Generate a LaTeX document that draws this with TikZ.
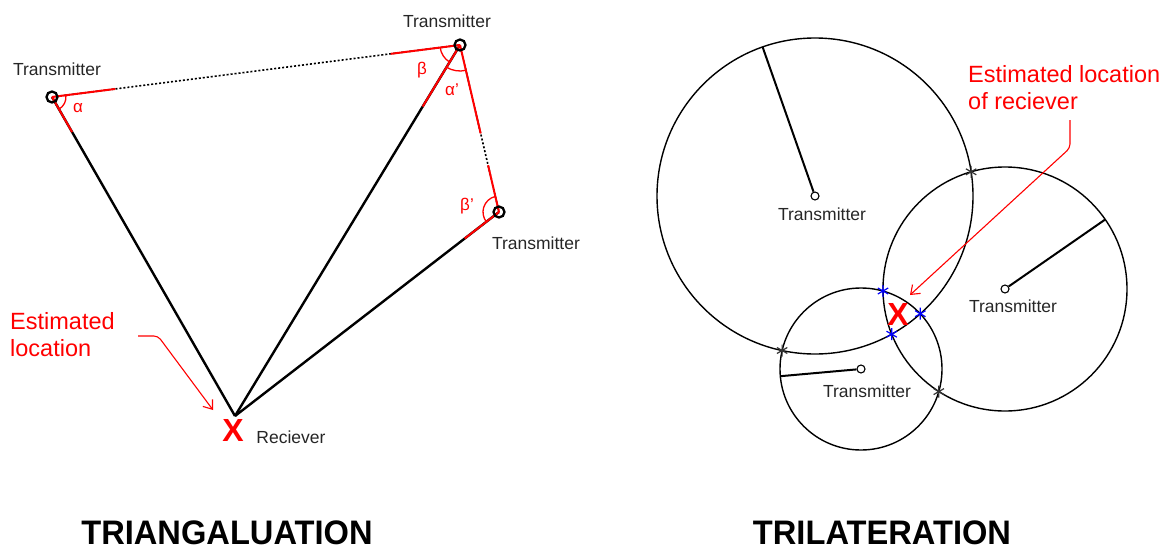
\documentclass[tikz,border=0pt]{standalone}
\usepackage{fontspec}
\setmainfont{Liberation Sans}
\usetikzlibrary{arrows.meta,angles,calc}
\definecolor{myred}{RGB}{255,0,0}
\definecolor{myblue}{RGB}{0,0,255}
\begin{document}
\begin{tikzpicture}[x=1pt,y=-1pt,
  lbl/.style={font=\fontsize{17.5}{20}\selectfont, anchor=base, inner sep=0pt, text=black!85},
  greek/.style={font=\fontsize{17}{20}\selectfont, text=myred, inner sep=0pt},
  redlbl/.style={font=\fontsize{23.5}{27}\selectfont, text=myred, align=left, anchor=north west, inner sep=0pt},
  title/.style={font=\fontsize{34}{38}\selectfont\bfseries, anchor=base, inner sep=0pt},
  bigx/.style={font=\fontsize{32}{36}\selectfont\bfseries, text=myred, inner sep=0pt},
  ring/.style={circle, draw, line width=2.3pt, minimum size=11pt, inner sep=0pt},
  smallring/.style={circle, draw, line width=1.1pt, minimum size=8pt, inner sep=0pt},
  thickblk/.style={line width=2.4pt},
  redseg/.style={myred, line width=2pt},
  dotblk/.style={line width=1.6pt, dash pattern=on 2pt off 2pt},
  anglearc/.style={draw=myred, line width=1.3pt},
  redarrow/.style={myred, line width=1.1pt, -{Straight Barb[length=8pt,width=12pt]}},
  circ/.style={line width=1.4pt},
  radline/.style={line width=2pt},
  astmark/.pic={\draw[line width=1.2pt] (0,-6)--(0,6) (-5.2,-3)--(5.2,3) (-5.2,3)--(5.2,-3);}
]
\useasboundingbox (0,0) rectangle (1176,549);

% ---------------- Triangulation ----------------
\coordinate (a) at (52,97);
\coordinate (b) at (460,45);
\coordinate (c) at (499,212);
\coordinate (r) at (235,416);

\draw[thickblk] (a) -- (r);
\draw[thickblk] (b) -- (r);
\draw[thickblk] (c) -- (r);
\draw[dotblk] (a) -- (b);
\draw[dotblk] (b) -- (c);

\draw[redseg] (a) -- ($(a)!0.11!(r)$);
\draw[redseg] (b) -- ($(b)!0.166!(r)$);
\draw[redseg] (c) -- ($(c)!0.13!(r)$);
\draw[redseg] (a) -- ($(a)!0.155!(b)$);
\draw[redseg] ($(a)!0.83!(b)$) -- (b);
\draw[redseg] (b) -- ($(b)!0.53!(c)$);
\draw[redseg] ($(b)!0.72!(c)$) -- (c);

\pic[anglearc, angle radius=14pt] {angle=r--a--b};
\pic[anglearc, angle radius=20pt] {angle=a--b--r};
\pic[anglearc, angle radius=26pt] {angle=r--b--c};
\pic[anglearc, angle radius=16pt] {angle=b--c--r};

\node[ring] (A) at (a) {};
\node[ring] (B) at (b) {};
\node[ring] (C) at (c) {};

\node[lbl] (la) at (57,75) {Transmitter};
\node[lbl] (lb) at (447,27) {Transmitter};
\node[lbl] (lc) at (536,249) {Transmitter};
\node[lbl] (lr) at (291,443) {Reciever};

\node[greek] (ga) at (78,108) {α};
\node[greek] (gb) at (422,70) {β};
\node[greek] (gap) at (452,90) {α'};
\node[greek] (gbp) at (467,206) {β'};

\node[bigx] (rx) at (233,430) {X};

\node[redlbl] (el) at (10,312.5) {Estimated\\location};
\coordinate (ea1) at (138,336);
\coordinate (eb1) at (158,336);
\coordinate (ea2) at (213,410);
\draw[redarrow, rounded corners=4pt] (ea1) -- (eb1) -- (ea2);

\node[title] (t1) at (227,544) {\scalebox{0.96}[1]{TRIANGALUATION}};

% ---------------- Trilateration ----------------
\coordinate (o1) at (815,196);
\coordinate (o2) at (1005,289);
\coordinate (o3) at (861,369);

\draw[circ] (o1) circle[radius=158];
\draw[circ] (o2) circle[radius=122];
\draw[circ] (o3) circle[radius=81];

\coordinate (p1) at (762.6,47);
\coordinate (p2) at (1105.2,219.5);
\coordinate (p3) at (780.3,376.2);

\node[smallring] (T1) at (o1) {};
\node[smallring] (T2) at (o2) {};
\node[smallring] (T3) at (o3) {};

\draw[radline] (T1) -- (p1);
\draw[radline] (T2) -- (p2);
\draw[radline] (T3) -- (p3);

\node[lbl] (l1) at (822,220) {Transmitter};
\node[lbl] (l2) at (1013,312) {Transmitter};
\node[lbl] (l3) at (867,397) {Transmitter};

% outer intersections
\coordinate (k12) at (971.1,171.8);
\coordinate (k13) at (782.1,350.5);
\coordinate (k23) at (938.8,391.6);
% inner intersections
\coordinate (n12) at (891.7,334.2);
\coordinate (n13) at (920.3,313.7);
\coordinate (n23) at (883.0,291.0);

\pic[black!80] at (k12) {astmark};
\pic[black!80] at (k13) {astmark};
\pic[black!80] at (k23) {astmark};
\pic[myblue] at (n12) {astmark};
\pic[myblue] at (n13) {astmark};
\pic[myblue] at (n23) {astmark};

\node[bigx] (x2) at (898,314) {X};

\node[redlbl] (er) at (968,65) {Estimated location\\of reciever};
\coordinate (eb2) at (1070,120);
\coordinate (ec2) at (1070,148);
\coordinate (ed2) at (910,295);
\draw[redarrow, rounded corners=4pt] (eb2) -- (ec2) -- (ed2);

\node[title] (t2) at (882,544) {\scalebox{0.96}[1]{TRILATERATION}};
\end{tikzpicture}
\end{document}
